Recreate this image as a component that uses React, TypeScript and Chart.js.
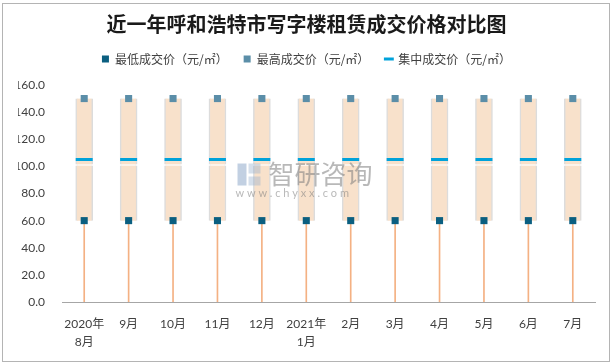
import React, { useEffect, useRef } from "react";
import { Chart, registerables, layouts } from "chart.js";

Chart.register(...registerables);

const categories: (string | string[])[] = [
  ["2020年", "8月"], "9月", "10月", "11月", "12月", ["2021年", "1月"],
  "2月", "3月", "4月", "5月", "6月", "7月",
];
const lowPrices = [60, 60, 60, 60, 60, 60, 60, 60, 60, 60, 60, 60];
const highPrices = [150, 150, 150, 150, 150, 150, 150, 150, 150, 150, 150, 150];
const medianPrices = [105, 105, 105, 105, 105, 105, 105, 105, 105, 105, 105, 105];
const boxSplit = [101, 101, 101, 101, 101, 101, 101, 101, 101, 101, 101, 101];
const yTicks = [0, 20, 40, 60, 80, 100, 120, 140, 160];

const seriesNames = ["最低成交价（元/㎡）", "最高成交价（元/㎡）", "集中成交价（元/㎡）"];
const titleText = "近一年呼和浩特市写字楼租赁成交价格对比图";

const labelFont = "Lato, 'Noto Sans CJK SC', sans-serif";
const cjkFont = "'Noto Sans CJK SC', sans-serif";

const spacer = {
  id: "spacer",
  beforeInit(chart: any) {
    const box: any = {
      position: "top",
      weight: 0,
      fullSize: true,
      options: { position: "top", weight: 0, fullSize: true },
      left: 0,
      top: 0,
      right: 0,
      bottom: 0,
      width: 0,
      height: 0,
      isHorizontal() {
        return true;
      },
      update(maxWidth: number) {
        this.width = maxWidth;
        this.height = 10;
      },
      draw() {},
    };
    layouts.addBox(chart, box);
  },
};

const watermark = {
  id: "watermark",
  afterDatasetsDraw(chart: any) {
    const ctx = chart.ctx;
    const x = chart.scales.x;
    const y = chart.scales.y;
    const cx = (x.left + x.right) / 2;
    const cy = y.getPixelForValue(94);
    ctx.save();
    ctx.fillStyle = "rgba(125,125,125,0.55)";
    ctx.font = "26px " + cjkFont;
    ctx.textBaseline = "middle";
    ctx.textAlign = "left";
    ctx.fillText("智研咨询", cx - 60, cy);
    ctx.font = "11px " + labelFont;
    ctx.fillText("w w w . c h y x x . c o m", cx - 93, cy + 19);
    ctx.fillStyle = "rgba(120,150,190,0.45)";
    ctx.fillRect(cx - 91, cy - 11, 9, 22);
    ctx.fillStyle = "rgba(150,175,205,0.4)";
    ctx.fillRect(cx - 80, cy - 11, 12, 10);
    ctx.fillRect(cx - 80, cy + 2, 12, 9);
    ctx.restore();
  },
};

export default function App() {
  const ref = useRef<HTMLCanvasElement | null>(null);

  useEffect(() => {
    if (!ref.current) return;
    const chart = new Chart(ref.current, {
      type: "bar",
      data: {
        labels: categories,
        datasets: [
          {
            type: "line",
            label: seriesNames[0],
            data: lowPrices,
            showLine: false,
            pointStyle: "rect",
            pointRadius: 5,
            pointBackgroundColor: "#0B5F80",
            backgroundColor: "#0B5F80",
            borderColor: "#0B5F80",
            pointBorderWidth: 0,
            borderWidth: 0,
            order: 0,
          } as any,
          {
            type: "line",
            label: seriesNames[1],
            data: highPrices,
            showLine: false,
            pointStyle: "rect",
            pointRadius: 5,
            pointBackgroundColor: "#5B8EA8",
            backgroundColor: "#5B8EA8",
            borderColor: "#5B8EA8",
            pointBorderWidth: 0,
            borderWidth: 0,
            order: 0,
          } as any,
          {
            type: "line",
            label: seriesNames[2],
            data: medianPrices,
            showLine: false,
            pointStyle: "line",
            pointRadius: 8.5,
            pointBorderWidth: 3,
            pointBorderColor: "#00A2DA",
            borderColor: "#00A2DA",
            backgroundColor: "#00A2DA",
            borderWidth: 3,
            order: 1,
          } as any,
          {
            label: "boxLower",
            data: categories.map((_, i) => [lowPrices[i], boxSplit[i] - 0.4]),
            backgroundColor: "#F8E1CB",
            borderColor: "#DCDCDC",
            borderWidth: { left: 1.5, right: 1.5, top: 0, bottom: 0 },
            borderSkipped: false,
            barThickness: 17,
            grouped: false,
            order: 2,
          } as any,
          {
            label: "boxUpper",
            data: categories.map((_, i) => [boxSplit[i] + 0.4, highPrices[i]]),
            backgroundColor: "#F8E1CB",
            borderColor: "#DCDCDC",
            borderWidth: { left: 1.5, right: 1.5, top: 0, bottom: 0 },
            borderSkipped: false,
            barThickness: 17,
            grouped: false,
            order: 2,
          } as any,
          {
            label: "stem",
            data: categories.map((_, i) => [0, lowPrices[i]]),
            backgroundColor: "#F4B183",
            borderWidth: 0,
            barThickness: 1,
            grouped: false,
            order: 3,
          } as any,
        ],
      },
      options: {
        responsive: false,
        animation: false,
        layout: { padding: { left: 18, right: 18, top: 0, bottom: 12 } },
        plugins: {
          title: {
            display: true,
            text: titleText,
            color: "#1A1A1A",
            font: { family: cjkFont, size: 20, weight: "bold", lineHeight: 1.2 },
            padding: { top: 12, bottom: 1 },
          },
          legend: {
            display: true,
            position: "top",
            labels: {
              usePointStyle: true,
              boxWidth: 7,
              boxHeight: 7,
              padding: 16,
              color: "#404040",
              font: { family: cjkFont, size: 12 },
              filter: (item: any) => seriesNames.includes(item.text),
            },
          },
          tooltip: { enabled: false },
        },
        scales: {
          x: {
            offset: true,
            grid: { display: false, drawTicks: false },
            border: { display: true, color: "#A6A6A6", width: 1 },
            ticks: {
              color: "#404040",
              font: { family: labelFont, size: 12, lineHeight: 1.5 },
              padding: 13,
              maxRotation: 0,
              autoSkip: false,
            },
            afterFit: (s: any) => {
              s.height = 50;
            },
          },
          y: {
            min: 0,
            max: 160,
            grid: { display: false, drawTicks: false },
            border: { display: false },
            afterBuildTicks: (s: any) => {
              s.ticks = yTicks.map((v) => ({ value: v }));
            },
            ticks: {
              color: "#404040",
              font: { family: labelFont, size: 12 },
              padding: 17,
              callback: (v: any) => Number(v).toFixed(1),
            },
            afterFit: (s: any) => {
              s.width = 44;
            },
          },
        },
      },
      plugins: [spacer, watermark],
    });
    return () => chart.destroy();
  }, []);

  return (
    <div style={{ position: "fixed", left: 0, top: 0, width: 613, height: 364, background: "#fff" }}>
      <canvas ref={ref} width={613} height={364} style={{ position: "absolute", left: 0, top: 0 }} />
      <div
        style={{
          position: "absolute",
          left: 2,
          top: 3,
          width: 608,
          height: 359,
          boxSizing: "border-box",
          border: "1px solid #B4B4B4",
          pointerEvents: "none",
        }}
      />
    </div>
  );
}
